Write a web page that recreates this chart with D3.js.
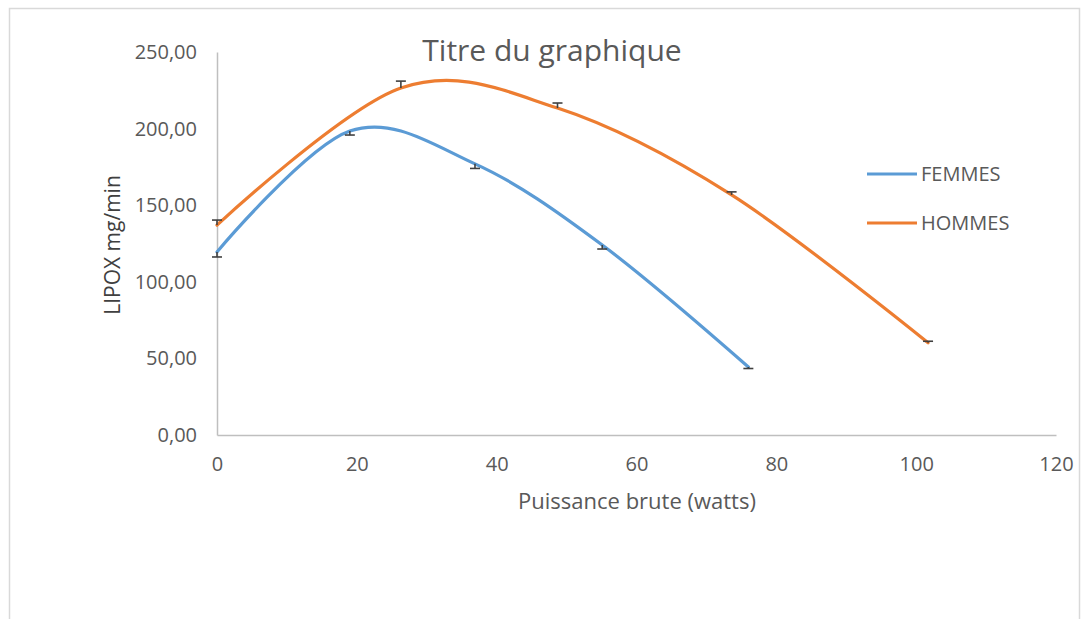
<!DOCTYPE html>
<html><head><meta charset="utf-8">
<script src="https://cdn.jsdelivr.net/npm/d3@7"></script>
<style>body{margin:0;background:#fff}svg{display:block}text{font-family:"Open Sans",sans-serif}</style>
</head><body><svg id="c" width="1088" height="619"></svg>
<script>
const seriesNames = ["FEMMES", "HOMMES"];
const seriesColors = ["#5b9bd5", "#ed7d31"];
const femmesX = [0, 19, 36.9, 55.1, 76];
const femmesY = [119.5, 198.4, 177, 124, 44.4];
const femmesErrMinus = [3.3, 2.6, 3, 2.6, 1];
const hommesX = [0, 26.3, 48.7, 73.6, 101.7];
const hommesY = [137, 226.5, 213.4, 156.7, 60.2];
const hommesErrPlus = [3.3, 4.5, 3.3, 2, 1];
const yTicks = [0, 50, 100, 150, 200, 250];
const xTicks = [0, 20, 40, 60, 80, 100, 120];
const title = "Titre du graphique";
const xTitle = "Puissance brute (watts)";
const yTitle = "LIPOX mg/min";

const svg = d3.select("#c");
const m = {l:217, t:52, r:1056, b:435};
const x = d3.scaleLinear().domain([0,120]).range([m.l, m.r]);
const y = d3.scaleLinear().domain([0,250]).range([m.b, m.t]);

// chart frame
svg.append("rect").attr("x",9.5).attr("y",8.5).attr("width",1070).attr("height",640)
  .attr("fill","none").attr("stroke","#d9d9d9").attr("stroke-width",1.5);

// axes
const fmt = d => d3.format(".2f")(d).replace(".", ",");
const gy = svg.append("g").attr("transform",`translate(${m.l},0)`)
  .call(d3.axisLeft(y).tickValues(yTicks).tickSize(0).tickPadding(20).tickFormat(fmt));
const gx = svg.append("g").attr("transform",`translate(0,${m.b})`)
  .call(d3.axisBottom(x).tickValues(xTicks).tickSize(0).tickPadding(22).tickFormat(d3.format("d")));
[gx, gy].forEach(g => {
  g.select(".domain").attr("stroke","#bfbfbf").attr("stroke-width",1.5);
  g.selectAll("text").attr("fill","#595959").style("font-size","20px").style("font-family","'Open Sans',sans-serif");
});
gx.selectAll("text").attr("dy","0.7em");

// titles
svg.append("text").attr("x",552).attr("y",61).attr("text-anchor","middle")
  .attr("fill","#595959").style("font-size","30px").text(title);
svg.append("text").attr("x",637).attr("y",509).attr("text-anchor","middle")
  .attr("fill","#595959").style("font-size","22px").text(xTitle);
svg.append("text").attr("transform","translate(120,245) rotate(-90)").attr("text-anchor","middle")
  .attr("fill","#404040").style("font-size","21px").text(yTitle);

const series = [
  {name:seriesNames[0], color:seriesColors[0], xs:femmesX, ys:femmesY, err:femmesErrMinus, dir:-1},
  {name:seriesNames[1], color:seriesColors[1], xs:hommesX, ys:hommesY, err:hommesErrPlus, dir:1}
];
const line = d3.line().x(d=>x(d[0])).y(d=>y(d[1])).curve(d3.curveCatmullRom.alpha(0));
series.forEach(s => {
  const pts = s.xs.map((v,i)=>[v, s.ys[i], s.err[i]]);
  svg.append("path").attr("d", line(pts)).attr("fill","none")
    .attr("stroke", s.color).attr("stroke-width",3.2).attr("stroke-linecap","round");
  const g = svg.append("g").attr("stroke","#404040").attr("stroke-width",1.6);
  pts.forEach(p => {
    const y0 = y(p[1]), y1 = y(p[1] + s.dir*p[2]);
    g.append("line").attr("x1",x(p[0])).attr("x2",x(p[0])).attr("y1",y0).attr("y2",y1);
    g.append("line").attr("x1",x(p[0])-5).attr("x2",x(p[0])+5).attr("y1",y1).attr("y2",y1);
  });
});

// legend
series.forEach((s,i) => {
  const ly = 174 + i*49;
  svg.append("line").attr("x1",867).attr("x2",917).attr("y1",ly).attr("y2",ly)
    .attr("stroke",s.color).attr("stroke-width",3.2);
  svg.append("text").attr("x",921).attr("y",ly).attr("dy","0.36em")
    .attr("fill","#595959").style("font-size","20px").text(s.name);
});
</script></body></html>
